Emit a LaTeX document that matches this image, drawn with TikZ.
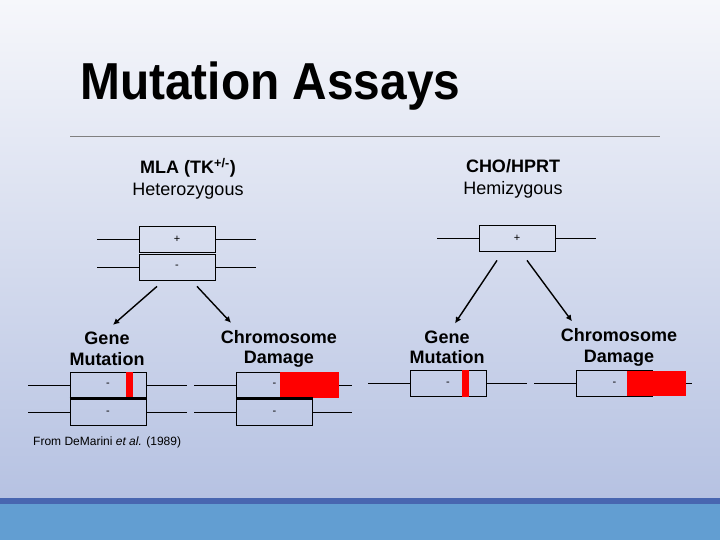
\documentclass[tikz,border=0pt]{standalone}
\usepackage{fontspec}
\setmainfont{Liberation Sans}
\usepackage{xcolor}
\usepackage{tikz}
\usetikzlibrary{positioning}
\usetikzlibrary{arrows.meta}
\tikzset{>={Latex[width=2.2mm,length=2.2mm]}}
\definecolor{bgtop}{RGB}{246,247,251}
\definecolor{bgbottom}{RGB}{182,194,226}
\definecolor{banddark}{RGB}{72,102,176}
\definecolor{bandlight}{RGB}{98,158,210}

\begin{document}
\begin{tikzpicture}[x=1pt, y=-1pt, chrom/.style={rectangle, draw=black, line width=0.8pt, minimum width=76pt, minimum height=26pt, inner sep=0pt, font=\fontsize{11}{13}\selectfont}, redmark/.style={rectangle, fill=red, draw=none, inner sep=0pt}, header/.style={align=center, font=\fontsize{18}{22}\selectfont}, result/.style={align=center, font=\fontsize{18}{20.5}\selectfont\bfseries}, arm/.style={line width=0.8pt}]

    %Background
    \useasboundingbox (0,0) rectangle (720,540);
    \shade[top color=bgtop, bottom color=bgbottom] (0,0) rectangle (720,498);
    \fill[banddark] (0,498) rectangle (720,504);
    \fill[bandlight] (0,504) rectangle (720,540);

    %Title
    \node[anchor=base west, inner sep=0pt] (title) at (80,100) {\scalebox{0.92}[1]{\fontsize{52}{58}\selectfont\bfseries Mutation Assays}};
    \coordinate (rule_l) at (70,136);
    \coordinate (rule_r) at (660,136);
    \draw[black!50, line width=0.8pt] (rule_l) -- (rule_r);

    %Nodes
    \node[header](mla)at(188,179){\textbf{MLA (TK\textsuperscript{+/-})}\\Heterozygous};
    \node[header](cho)at(513,179){\textbf{CHO/HPRT}\\Hemizygous};
    \node[chrom](mla_top)at(177,239){+};
    \node[chrom](mla_bot)at(177,267){-};
    \node[chrom](cho_top)at(517,238){+};

    \node[result](mla_gene)at(107,349){Gene\\Mutation};
    \node[result](mla_chrom)at(279,349){Chromosome\\Damage};
    \node[result](cho_gene)at(447,347.5){Gene\\Mutation};
    \node[result](cho_chrom)at(619,347.5){Chromosome\\Damage};

    \node[chrom](mg_top)at(108,385){-};
    \node[chrom](mg_bot)at(108,412.5){-};
    \node[chrom](mc_top)at(274.5,385){-};
    \node[chrom](mc_bot)at(274.5,412.5){-};
    \node[chrom](cg_top)at(448,383.5){-};
    \node[chrom](cc_top)at(614.5,383.5){-};

    \node[redmark, minimum width=7pt, minimum height=27pt](mg_red)at(129.5,385){};
    \node[redmark, minimum width=59pt, minimum height=26pt](mc_red)at(309.5,385){};
    \node[redmark, minimum width=7pt, minimum height=27pt](cg_red)at(465.5,383.5){};
    \node[redmark, minimum width=59pt, minimum height=25pt](cc_red)at(656.5,383.5){};

    \node[anchor=west, inner sep=0pt, font=\fontsize{12}{14}\selectfont](source)at(33,442){From DeMarini \textit{et al.} (1989)};

    %Line ends
    \coordinate (a1) at (97,239);  \coordinate (a2) at (256,239);
    \coordinate (a3) at (97,267);  \coordinate (a4) at (256,267);
    \coordinate (b1) at (437,238); \coordinate (b2) at (596,238);
    \coordinate (c1) at (28,385);  \coordinate (c2) at (187,385);
    \coordinate (c3) at (28,412.5);  \coordinate (c4) at (187,412.5);
    \coordinate (d1) at (194,385); \coordinate (d2) at (352,385);
    \coordinate (d3) at (194,412.5); \coordinate (d4) at (352,412.5);
    \coordinate (e1) at (368,383.5); \coordinate (e2) at (527,383.5);
    \coordinate (f1) at (534,383.5); \coordinate (f2) at (692,383.5);

    %Lines
    \draw[arm] (a1) -- (mla_top.west);
    \draw[arm] (mla_top.east) -- (a2);
    \draw[arm] (a3) -- (mla_bot.west);
    \draw[arm] (mla_bot.east) -- (a4);
    \draw[arm] (b1) -- (cho_top.west);
    \draw[arm] (cho_top.east) -- (b2);
    \draw[arm] (c1) -- (mg_top.west);
    \draw[arm] (mg_top.east) -- (c2);
    \draw[arm] (c3) -- (mg_bot.west);
    \draw[arm] (mg_bot.east) -- (c4);
    \draw[arm] (d1) -- (mc_top.west);
    \draw[arm] (mc_red.east) -- (d2);
    \draw[arm] (d3) -- (mc_bot.west);
    \draw[arm] (mc_bot.east) -- (d4);
    \draw[arm] (e1) -- (cg_top.west);
    \draw[arm] (cg_top.east) -- (e2);
    \draw[arm] (f1) -- (cc_top.west);
    \draw[arm] (cc_red.east) -- (f2);
    \draw[line width=2pt] (mg_top.south west) -- (mg_top.south east);
    \draw[line width=2pt] (mc_top.south west) -- (mc_top.south east);

    %Arrows
    \draw[->, line width=1.4pt] ([xshift=-20pt, yshift=-6pt]mla_bot.south) -- ([xshift=6pt, yshift=4pt]mla_gene.north);
    \draw[->, line width=1.4pt] ([xshift=20pt, yshift=-6pt]mla_bot.south) -- ([xshift=-48pt, yshift=4pt]mla_chrom.north);
    \draw[->, line width=1.4pt] ([xshift=-20pt, yshift=-9pt]cho_top.south) -- ([xshift=8pt, yshift=4pt]cho_gene.north);
    \draw[->, line width=1.4pt] ([xshift=10pt, yshift=-9pt]cho_top.south) -- ([xshift=-47pt, yshift=4pt]cho_chrom.north);

\end{tikzpicture}
\end{document}
